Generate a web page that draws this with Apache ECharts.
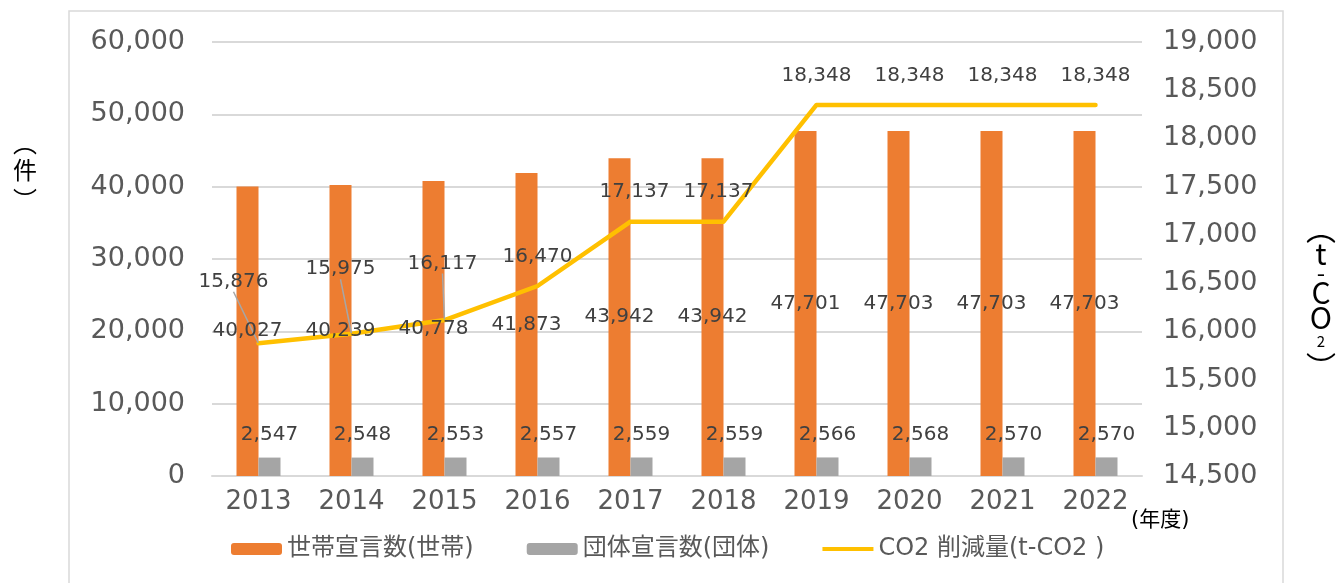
<!DOCTYPE html>
<html>
<head>
<meta charset="utf-8">
<script src="https://cdn.jsdelivr.net/npm/echarts@6/dist/echarts.min.js"></script>
<style>
  html, body { margin: 0; padding: 0; background: #fff; }
  #box { width: 1341px; height: 583px; }
</style>
</head>
<body>
<div id="box"></div>
<script>
// data
const years = ['2013','2014','2015','2016','2017','2018','2019','2020','2021','2022'];
const households = [40027, 40239, 40778, 41873, 43942, 43942, 47701, 47703, 47703, 47703];
const groups = [2547, 2548, 2553, 2557, 2559, 2559, 2566, 2568, 2570, 2570];
const co2 = [15876, 15975, 16117, 16470, 17137, 17137, 18348, 18348, 18348, 18348];

const FONT = '"DejaVu Sans", "Noto Sans CJK JP", sans-serif';
const fmt = v => v.toLocaleString('en-US');

// manual label shifts for the line (as moved in the original)
const lineShift = { 0: [-25, -32], 1: [-11, -35], 2: [-2, -27], 4: [4, 0], 5: [-5, 0] };

// vertical axis titles, one glyph per entry: [text, x, y, size]
const titleGlyphs = [
    ['︵', 25, 143, 24], ['件', 25, 170, 24], ['︶', 25, 200, 24],
    ['︵', 1321, 229, 30], ['t', 1321, 254, 30], ['-', 1321, 273, 24],
    ['C', 1321, 293, 30], ['O', 1321, 318, 30], ['2', 1321, 341, 15],
    ['︶', 1321, 367, 30]
];

const chart = echarts.init(document.getElementById('box'));

const graphics = [
    {
        type: 'rect',
        shape: { x: 69, y: 11, width: 1214, height: 600 },
        style: { fill: 'none', stroke: '#d9d9d9', lineWidth: 1.5 },
        silent: true, z: -1
    },
    {
        type: 'text',
        x: 1131, y: 521,
        style: {
            text: '(年度)',
            font: '21px "DejaVu Sans", "Noto Sans CJK JP"',
            fill: '#000',
            verticalAlign: 'middle'
        }
    }
];
titleGlyphs.forEach(g => {
    graphics.push({
        type: 'text',
        x: g[1], y: g[2],
        style: {
            text: g[0],
            font: g[3] + 'px "Noto Sans CJK JP"',
            fill: '#000',
            align: 'center',
            verticalAlign: 'middle'
        }
    });
});

const valueLabel = {
    show: true, fontSize: 20, color: '#404040',
    fontFamily: FONT, formatter: p => fmt(p.value)
};

const catAxis = {
    type: 'category',
    data: years,
    axisTick: { show: false },
    axisLine: { lineStyle: { color: '#d9d9d9', width: 2 } },
    axisLabel: { fontSize: 26, color: '#595959', margin: 13, fontFamily: FONT }
};

chart.setOption({
    animation: false,
    textStyle: { fontFamily: FONT },
    grid: { left: 212, right: 199, top: 42, bottom: 107 },
    legend: {
        bottom: 17,
        left: 226,
        itemWidth: 51,
        itemHeight: 12,
        itemGap: 53,
        textStyle: { fontFamily: FONT, fontSize: 24, color: '#595959' },
        data: [
            '世帯宣言数(世帯)',
            '団体宣言数(団体)',
            { name: 'CO2 削減量(t-CO2 )', icon: 'path://M0,0 L51,0 L51,4 L0,4 Z' }
        ]
    },
    xAxis: [
        catAxis,
        // twin axis, only carries the label layer of the bars
        Object.assign({}, catAxis, { show: false })
    ],
    yAxis: [
        {
            type: 'value',
            min: 0, max: 60000, interval: 10000,
            axisLine: { show: false },
            axisTick: { show: false },
            splitLine: { lineStyle: { color: '#d9d9d9', width: 2 } },
            axisLabel: { fontSize: 27, color: '#595959', margin: 27, formatter: fmt, fontFamily: FONT }
        },
        {
            type: 'value',
            min: 14500, max: 19000, interval: 500,
            axisLine: { show: false },
            axisTick: { show: false },
            splitLine: { show: false },
            axisLabel: { fontSize: 27, color: '#595959', margin: 21, formatter: fmt, fontFamily: FONT }
        }
    ],
    series: [
        {
            name: '世帯宣言数(世帯)',
            type: 'bar',
            data: households,
            barWidth: 22,
            barGap: '0%',
            itemStyle: { color: '#ED7D31' }
        },
        {
            name: '団体宣言数(団体)',
            type: 'bar',
            data: groups,
            barWidth: 22,
            itemStyle: { color: '#A5A5A5' }
        },
        {
            name: 'CO2 削減量(t-CO2 )',
            type: 'line',
            yAxisIndex: 1,
            data: co2.map((v, i) => (i < 3 ? { value: v, labelLine: { show: true } } : v)),
            symbol: 'circle',
            symbolSize: 1,
            showSymbol: true,
            itemStyle: { color: '#FFC000' },
            lineStyle: { color: '#FFC000', width: 4.5, cap: 'round', join: 'round' },
            label: Object.assign({ position: 'top', distance: 19 }, valueLabel),
            labelLine: {
                show: false,
                lineStyle: { color: '#a6a6a6', width: 1.5 }
            },
            labelLayout: function (params) {
                const s = lineShift[params.dataIndex];
                if (!s) return {};
                return { dx: s[0], dy: s[1] };
            },
            z: 4
        },
        {
            name: 'household-labels',
            type: 'bar',
            xAxisIndex: 1,
            data: households,
            barWidth: 22,
            barGap: '0%',
            itemStyle: { color: 'rgba(0,0,0,0)' },
            label: Object.assign({ position: 'inside' }, valueLabel),
            silent: true,
            z: 6
        },
        {
            name: 'group-labels',
            type: 'bar',
            xAxisIndex: 1,
            data: groups,
            barWidth: 22,
            itemStyle: { color: 'rgba(0,0,0,0)' },
            label: Object.assign({ position: 'top', distance: 13 }, valueLabel),
            silent: true,
            z: 6
        }
    ],
    graphic: graphics
});
</script>
</body>
</html>
